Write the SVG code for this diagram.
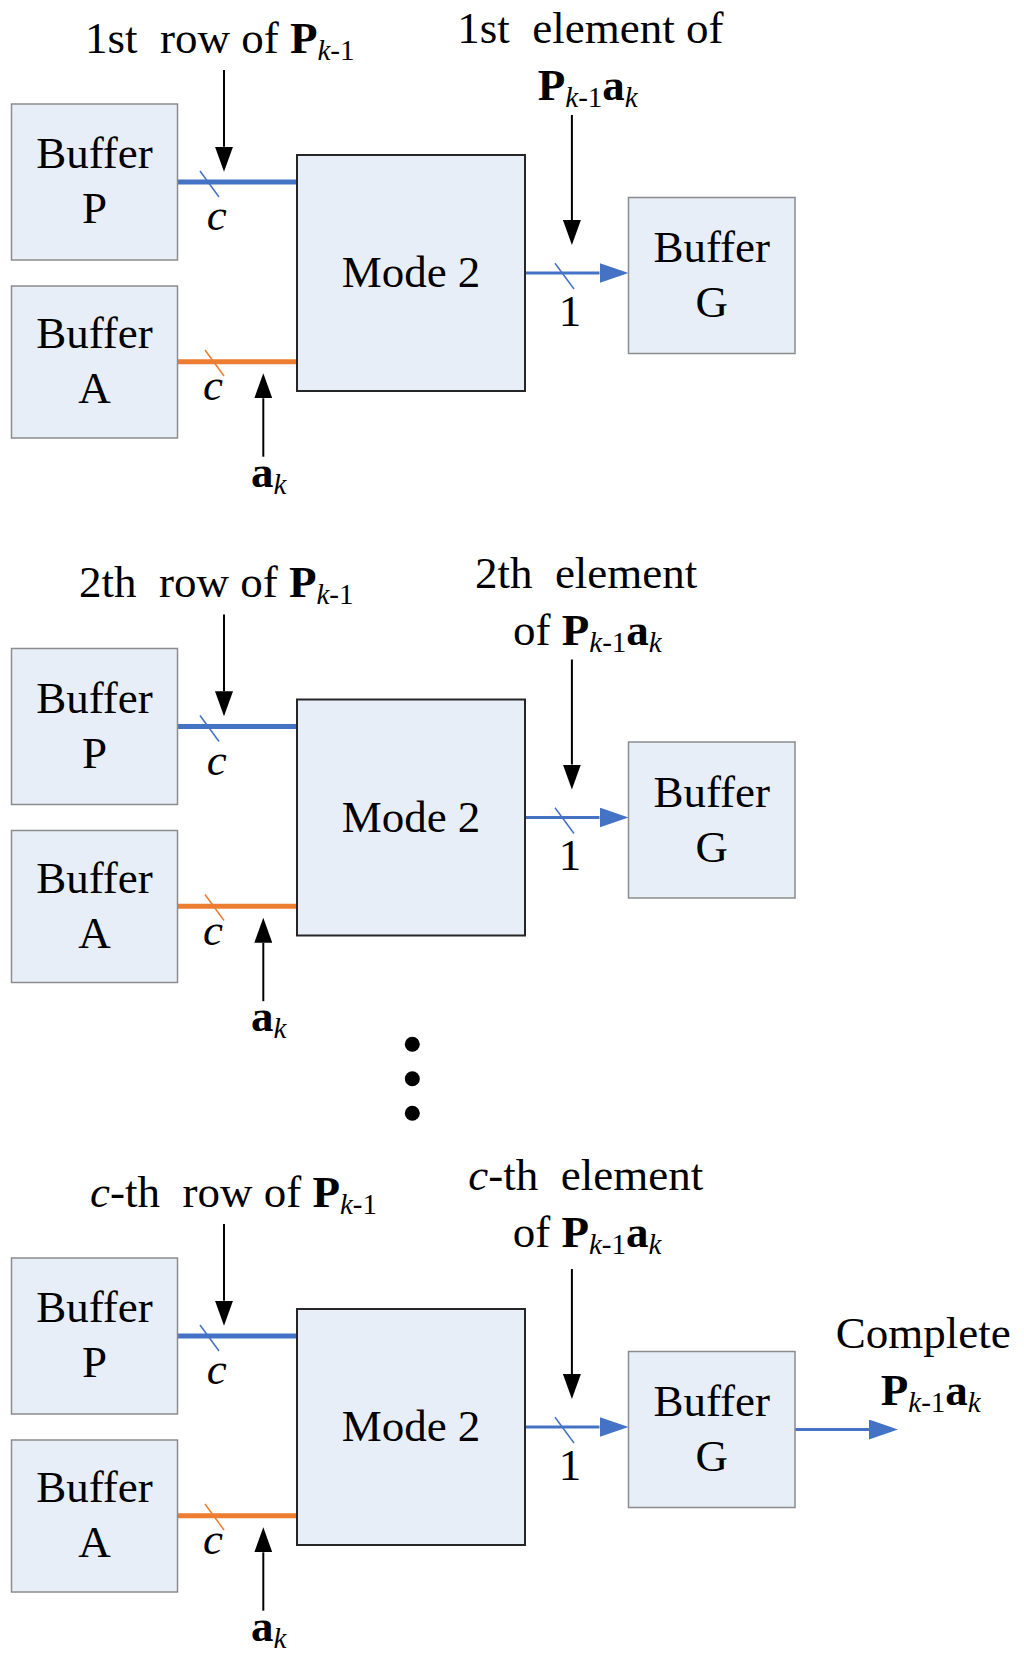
<svg xmlns="http://www.w3.org/2000/svg" width="1024" height="1657" viewBox="0 0 1024 1657">
<style>
text{font-family:"Liberation Serif","Times New Roman",serif;font-size:45px;fill:#000}
.c{text-anchor:middle}
.i{font-style:italic}
.b{font-weight:bold}
.s{font-size:29px}
.buf{fill:#E8EEF8;stroke:#8C8C8C;stroke-width:1.5}
.mode{fill:#E8EEF8;stroke:#262626;stroke-width:2}
.bw{stroke:#4472C4;stroke-width:5;fill:none}
.ow{stroke:#ED7D31;stroke-width:5;fill:none}
.bs{stroke:#4472C4;stroke-width:1.5;fill:none}
.os{stroke:#ED7D31;stroke-width:1.5;fill:none}
.bl{stroke:#4472C4;stroke-width:3;fill:none}
.k{stroke:#000;stroke-width:2;fill:none}
</style>
<defs>
<marker id="ah" markerUnits="userSpaceOnUse" markerWidth="25" markerHeight="18" refX="0" refY="9" orient="auto" viewBox="0 0 25 18">
<path d="M0,0 L25,9 L0,18 Z" fill="#000"/>
</marker>
<marker id="bh" markerUnits="userSpaceOnUse" markerWidth="29" markerHeight="20" refX="0" refY="10" orient="auto" viewBox="0 0 29 20">
<path d="M0,0 L29,10 L0,20 Z" fill="#4472C4"/>
</marker>
</defs>
<rect width="1024" height="1657" fill="#fff"/>

<g id="connectors">
<g id="conn-s1">
<line class="bw" x1="177.5" y1="182" x2="297" y2="182"/>
<line class="bs" x1="200" y1="171" x2="219" y2="197"/>
<line class="ow" x1="177.5" y1="361.7" x2="297" y2="361.7"/>
<line class="os" x1="205" y1="350" x2="224" y2="376"/>
<line class="k" x1="224" y1="70" x2="224" y2="146.7" marker-end="url(#ah)"/>
<line class="k" x1="263.3" y1="456.7" x2="263.3" y2="398.3" marker-end="url(#ah)"/>
<line class="k" x1="571.9" y1="115" x2="571.9" y2="220" marker-end="url(#ah)"/>
<line class="bl" x1="525" y1="273" x2="599.5" y2="273" marker-end="url(#bh)"/>
<line class="bs" x1="555" y1="263.3" x2="574" y2="289"/>
</g>
<g id="conn-s2" transform="translate(0,544.5)">
<line class="bw" x1="177.5" y1="182" x2="297" y2="182"/>
<line class="bs" x1="200" y1="171" x2="219" y2="197"/>
<line class="ow" x1="177.5" y1="361.7" x2="297" y2="361.7"/>
<line class="os" x1="205" y1="350" x2="224" y2="376"/>
<line class="k" x1="224" y1="70" x2="224" y2="146.7" marker-end="url(#ah)"/>
<line class="k" x1="263.3" y1="456.7" x2="263.3" y2="398.3" marker-end="url(#ah)"/>
<line class="k" x1="571.9" y1="115" x2="571.9" y2="220" marker-end="url(#ah)"/>
<line class="bl" x1="525" y1="273" x2="599.5" y2="273" marker-end="url(#bh)"/>
<line class="bs" x1="555" y1="263.3" x2="574" y2="289"/>
</g>
<g id="conn-s3" transform="translate(0,1154)">
<line class="bw" x1="177.5" y1="182" x2="297" y2="182"/>
<line class="bs" x1="200" y1="171" x2="219" y2="197"/>
<line class="ow" x1="177.5" y1="361.7" x2="297" y2="361.7"/>
<line class="os" x1="205" y1="350" x2="224" y2="376"/>
<line class="k" x1="224" y1="70" x2="224" y2="146.7" marker-end="url(#ah)"/>
<line class="k" x1="263.3" y1="456.7" x2="263.3" y2="398.3" marker-end="url(#ah)"/>
<line class="k" x1="571.9" y1="115" x2="571.9" y2="220" marker-end="url(#ah)"/>
<line class="bl" x1="525" y1="273" x2="599.5" y2="273" marker-end="url(#bh)"/>
<line class="bs" x1="555" y1="263.3" x2="574" y2="289"/>
<line class="bl" x1="795" y1="275.5" x2="869" y2="275.5" marker-end="url(#bh)"/>
</g>
</g>

<g id="section1">
<g id="bufP1"><rect class="buf" x="11.5" y="104" width="166" height="156"/><text class="c" x="94.5" y="168">Buffer</text><text class="c" x="94.5" y="223">P</text></g>
<g id="bufA1"><rect class="buf" x="11.5" y="286" width="166" height="152"/><text class="c" x="94.5" y="348">Buffer</text><text class="c" x="94.5" y="403">A</text></g>
<g id="mode1"><rect class="mode" x="297" y="155" width="228" height="236"/><text class="c" x="411" y="287">Mode 2</text></g>
<g id="bufG1"><rect class="buf" x="628.5" y="197.5" width="166.5" height="156"/><text class="c" x="711.7" y="262">Buffer</text><text class="c" x="711.7" y="317">G</text></g>
<g id="labels1">
<text x="85" y="52.7" xml:space="preserve">1st  row of <tspan class="b">P</tspan><tspan class="s i" dy="7">k</tspan><tspan class="s">-1</tspan></text>
<text x="457.3" y="43.3" xml:space="preserve">1st  element of</text>
<text x="537.8" y="100"><tspan class="b">P</tspan><tspan class="s i" dy="7">k</tspan><tspan class="s">-1</tspan><tspan class="b" dy="-7">a</tspan><tspan class="s i" dy="7">k</tspan></text>
<text class="i c" x="216.7" y="230">c</text>
<text class="i c" x="213" y="400">c</text>
<text class="c" x="570" y="325.5">1</text>
<text x="251" y="486.7"><tspan class="b">a</tspan><tspan class="s i" dy="7">k</tspan></text>
</g>
</g>

<g id="section2" transform="translate(0,544.5)">
<g id="bufP2"><rect class="buf" x="11.5" y="104" width="166" height="156"/><text class="c" x="94.5" y="168">Buffer</text><text class="c" x="94.5" y="223">P</text></g>
<g id="bufA2"><rect class="buf" x="11.5" y="286" width="166" height="152"/><text class="c" x="94.5" y="348">Buffer</text><text class="c" x="94.5" y="403">A</text></g>
<g id="mode2"><rect class="mode" x="297" y="155" width="228" height="236"/><text class="c" x="411" y="287">Mode 2</text></g>
<g id="bufG2"><rect class="buf" x="628.5" y="197.5" width="166.5" height="156"/><text class="c" x="711.7" y="262">Buffer</text><text class="c" x="711.7" y="317">G</text></g>
<g id="labels2">
<text x="79" y="52.5" xml:space="preserve">2th  row of <tspan class="b">P</tspan><tspan class="s i" dy="7">k</tspan><tspan class="s">-1</tspan></text>
<text x="474.9" y="43.8" xml:space="preserve">2th  element</text>
<text x="513" y="100.5" xml:space="preserve">of <tspan class="b">P</tspan><tspan class="s i" dy="7">k</tspan><tspan class="s">-1</tspan><tspan class="b" dy="-7">a</tspan><tspan class="s i" dy="7">k</tspan></text>
<text class="i c" x="216.7" y="230">c</text>
<text class="i c" x="213" y="400">c</text>
<text class="c" x="570" y="325.5">1</text>
<text x="251" y="486.7"><tspan class="b">a</tspan><tspan class="s i" dy="7">k</tspan></text>
</g>
</g>

<g id="dots">
<circle cx="412.3" cy="1044.3" r="7.5" fill="#000"/>
<circle cx="412.3" cy="1078.7" r="7.5" fill="#000"/>
<circle cx="412.3" cy="1113.3" r="7.5" fill="#000"/>
</g>

<g id="section3" transform="translate(0,1154)">
<g id="bufP3"><rect class="buf" x="11.5" y="104" width="166" height="156"/><text class="c" x="94.5" y="168">Buffer</text><text class="c" x="94.5" y="223">P</text></g>
<g id="bufA3"><rect class="buf" x="11.5" y="286" width="166" height="152"/><text class="c" x="94.5" y="348">Buffer</text><text class="c" x="94.5" y="403">A</text></g>
<g id="mode3"><rect class="mode" x="297" y="155" width="228" height="236"/><text class="c" x="411" y="287">Mode 2</text></g>
<g id="bufG3"><rect class="buf" x="628.5" y="197.5" width="166.5" height="156"/><text class="c" x="711.7" y="262">Buffer</text><text class="c" x="711.7" y="317">G</text></g>
<g id="labels3">
<text x="90" y="52.7" xml:space="preserve"><tspan class="i">c</tspan>-th  row of <tspan class="b">P</tspan><tspan class="s i" dy="7">k</tspan><tspan class="s">-1</tspan></text>
<text x="468.3" y="36" xml:space="preserve"><tspan class="i">c</tspan>-th  element</text>
<text x="512.7" y="92.7" xml:space="preserve">of <tspan class="b">P</tspan><tspan class="s i" dy="7">k</tspan><tspan class="s">-1</tspan><tspan class="b" dy="-7">a</tspan><tspan class="s i" dy="7">k</tspan></text>
<text class="i c" x="216.7" y="230">c</text>
<text class="i c" x="213" y="400">c</text>
<text class="c" x="570" y="325.5">1</text>
<text x="251" y="486.7"><tspan class="b">a</tspan><tspan class="s i" dy="7">k</tspan></text>
<text x="835.7" y="194.3">Complete</text>
<text x="880.8" y="251"><tspan class="b">P</tspan><tspan class="s i" dy="7">k</tspan><tspan class="s">-1</tspan><tspan class="b" dy="-7">a</tspan><tspan class="s i" dy="7">k</tspan></text>
</g>
</g>
</svg>
